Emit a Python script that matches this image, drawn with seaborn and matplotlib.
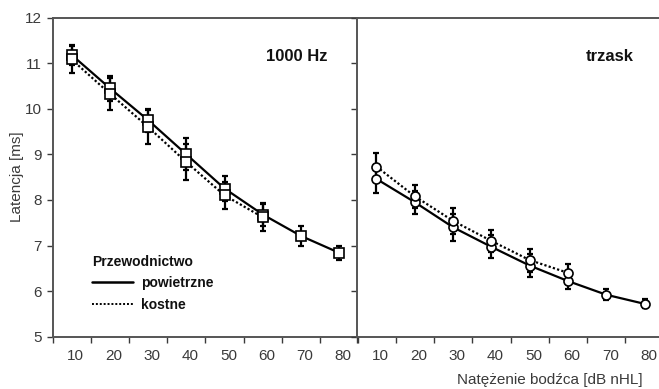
import numpy as np
import pandas as pd
import matplotlib
matplotlib.use('Agg')
import matplotlib.pyplot as plt
import matplotlib.transforms as mtransforms
from matplotlib.lines import Line2D
import seaborn as sns

### DATA ###
levels = [10, 20, 30, 40, 50, 60, 70, 80]  # dB nHL
levels_bone = [10, 20, 30, 40, 50, 60]

hz_air = [11.18, 10.45, 9.75, 9.00, 8.25, 7.68, 7.21, 6.84]
hz_air_err = [0.22, 0.27, 0.25, 0.35, 0.28, 0.25, 0.22, 0.15]
hz_bone = [11.08, 10.33, 9.60, 8.83, 8.10, 7.62]
hz_bone_err = [0.30, 0.35, 0.38, 0.40, 0.30, 0.30]

click_air = [8.46, 7.95, 7.40, 6.97, 6.56, 6.22, 5.92, 5.72]
click_air_err = [0.30, 0.25, 0.30, 0.25, 0.25, 0.17, 0.12, 0.10]
click_bone = [8.73, 8.08, 7.54, 7.10, 6.68, 6.40]
click_bone_err = [0.30, 0.25, 0.28, 0.25, 0.25, 0.20]

panel_titles = ['1000 Hz', 'trzask']
conduction = ['powietrzne', 'kostne']

### STYLE ###
sns.set_style('ticks')
plt.rcParams['font.family'] = ['Liberation Sans', 'DejaVu Sans']
GREY = '#3a3a3a'
plt.rcParams['text.color'] = GREY
plt.rcParams['axes.labelcolor'] = GREY
plt.rcParams['xtick.color'] = GREY
plt.rcParams['ytick.color'] = GREY
plt.rcParams['axes.edgecolor'] = '#555555'


def make_df(air, bone):
    a = pd.DataFrame({'level': levels, 'lat': air, 'typ': conduction[0]})
    b = pd.DataFrame({'level': levels_bone, 'lat': bone, 'typ': conduction[1]})
    return pd.concat([a, b], ignore_index=True)


fig = plt.figure(figsize=(6.59, 3.89), dpi=100)
ax1 = fig.add_axes([0.0797, 0.1344, 0.4640, 0.8206])
ax2 = fig.add_axes([0.5422, 0.1344, 0.4651, 0.8206])

panels = [
    (ax1, hz_air, hz_air_err, hz_bone, hz_bone_err, 's', 7.5),
    (ax2, click_air, click_air_err, click_bone, click_bone_err, 'o', 6.5),
]

for i, (ax, air, air_e, bone, bone_e, mk, ms) in enumerate(panels):
    # error bars first, markers go on top
    ax.errorbar(levels, air, yerr=air_e, fmt='none', ecolor='black', elinewidth=1.6, capsize=2.5, capthick=1.6, zorder=2)
    ax.errorbar(levels_bone, bone, yerr=bone_e, fmt='none', ecolor='black', elinewidth=1.6, capsize=2.5, capthick=1.6, zorder=2)
    df = make_df(air, bone)
    sns.lineplot(data=df, x='level', y='lat', style='typ', style_order=conduction,
                 dashes={'powietrzne': '', 'kostne': (1, 1)},
                 markers={'powietrzne': mk, 'kostne': mk},
                 color='black', linewidth=1.6, markersize=ms,
                 markerfacecolor='white', markeredgecolor='black', markeredgewidth=1.2,
                 legend=False, ax=ax, zorder=3)

    ax.set_xlim(5, 85)
    ax.set_ylim(5, 12)
    ax.set_xticks(levels)
    ax.set_xticks(np.arange(5, 90, 10), minor=True)
    ax.tick_params(axis='x', which='major', length=0, labelsize=11, pad=9)
    ax.tick_params(axis='x', which='minor', length=4, width=1, direction='out')
    ax.tick_params(axis='y', which='major', length=4, width=1, direction='out', labelsize=11)
    for lab in ax.get_xticklabels():
        lab.set_transform(lab.get_transform() + mtransforms.ScaledTranslation(4 / 100, 0, fig.dpi_scale_trans))
    ax.set_yticks(range(5, 13))
    for sp in ax.spines.values():
        sp.set_linewidth(1.4)
    ax.set_xlabel('')
    ax.set_ylabel('')
    ax.text(0.90, 0.878, panel_titles[i], transform=ax.transAxes, ha='right', va='center',
            fontsize=12, fontweight='bold', color='#111111')

ax2.set_yticklabels([])
ax1.set_ylabel('Latencja [ms]', fontsize=11, labelpad=1)
fig.text(0.835, 0.004, 'Natężenie bodźca [dB nHL]', ha='center', va='bottom', fontsize=11)

handles = [Line2D([], [], color='black', lw=1.8),
           Line2D([], [], color='black', lw=1.4, linestyle=(0, (1, 1)))]
leg = ax1.legend(handles, conduction, title='Przewodnictwo', loc='upper left',
                 bbox_to_anchor=(0.13, 0.257), frameon=False, borderpad=0, borderaxespad=0,
                 handlelength=2.9, handletextpad=0.6, labelspacing=0.55,
                 prop={'weight': 'bold', 'size': 10}, title_fontproperties={'weight': 'bold', 'size': 10},
                 alignment='left')
for t in leg.get_texts():
    t.set_color('#111111')
leg.get_title().set_color('#111111')

plt.savefig('out.png', dpi=100)
